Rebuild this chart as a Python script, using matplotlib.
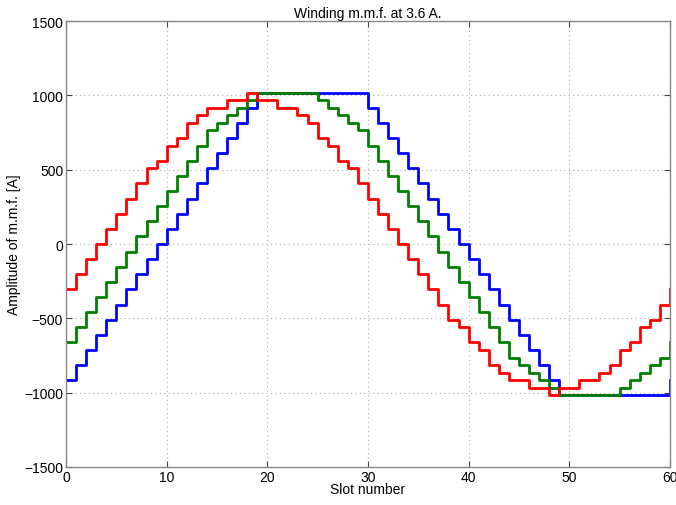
import matplotlib.pyplot as plt
import numpy as np

# slot positions and m.m.f. levels [A]
slots = list(range(0, 61))

mmf_red = [-305, -204, -102, 0, 102, 204, 305, 407, 509, 560,
           662, 713, 815, 865, 916, 916, 967, 967, 1018, 967,
           967, 916, 916, 865, 815, 713, 662, 560, 509, 407,
           305, 204, 102, 0, -102, -204, -305, -407, -509, -560,
           -662, -713, -815, -865, -916, -916, -967, -967, -1018, -967,
           -967, -916, -916, -865, -815, -713, -662, -560, -509, -407,
           -305]

mmf_green = [-662, -560, -458, -356, -255, -153, -51, 51, 153, 255,
             356, 458, 560, 662, 764, 815, 865, 916, 967, 1018,
             1018, 1018, 1018, 1018, 1018, 967, 916, 865, 815, 764,
             662, 560, 458, 356, 255, 153, 51, -51, -153, -255,
             -356, -458, -560, -662, -764, -815, -865, -916, -967, -1018,
             -1018, -1018, -1018, -1018, -1018, -967, -916, -865, -815, -764,
             -662]

mmf_blue = [-916, -815, -713, -611, -509, -407, -305, -204, -102, 0,
            102, 204, 305, 407, 509, 611, 713, 815, 916, 1018,
            1018, 1018, 1018, 1018, 1018, 1018, 1018, 1018, 1018, 1018,
            916, 815, 713, 611, 509, 407, 305, 204, 102, 0,
            -102, -204, -305, -407, -509, -611, -713, -815, -916, -1018,
            -1018, -1018, -1018, -1018, -1018, -1018, -1018, -1018, -1018, -1018,
            -916]

x_ticks = [0, 10, 20, 30, 40, 50, 60]
y_ticks = [-1500, -1000, -500, 0, 500, 1000, 1500]

plt.rcParams['font.family'] = ['Liberation Sans', 'DejaVu Sans']

fig = plt.figure(figsize=(6.76, 5.06), dpi=100)
ax = fig.add_axes([0.0976, 0.0751, 0.8934, 0.8814])

# draw order: blue under green under red
ax.plot(slots, mmf_blue, drawstyle='steps-post', color='#0000ff', lw=2.0)
ax.plot(slots, mmf_green, drawstyle='steps-post', color='#007f00', lw=2.0)
ax.plot(slots, mmf_red, drawstyle='steps-post', color='#ff0000', lw=2.0)

ax.set_xlim(0, 60)
ax.set_ylim(-1500, 1500)
ax.set_xticks(x_ticks)
ax.set_yticks(y_ticks)
ax.tick_params(direction='in', top=True, right=True, labelsize=10,
               length=4, color='#444444', pad=2)
ax.grid(True, linestyle=(0, (1, 3)), color='#aaaaaa', lw=0.8)
for s in ax.spines.values():
    s.set_color('#888888')
    s.set_linewidth(1.0)

ax.set_title('Winding m.m.f. at 3.6 A.', fontsize=10, pad=3)
ax.set_xlabel('Slot number', fontsize=10, labelpad=-1)
ax.set_ylabel('Amplitude of m.m.f. [A]', fontsize=10, labelpad=2)

fig.savefig('out.png', dpi=100)
plt.close(fig)
